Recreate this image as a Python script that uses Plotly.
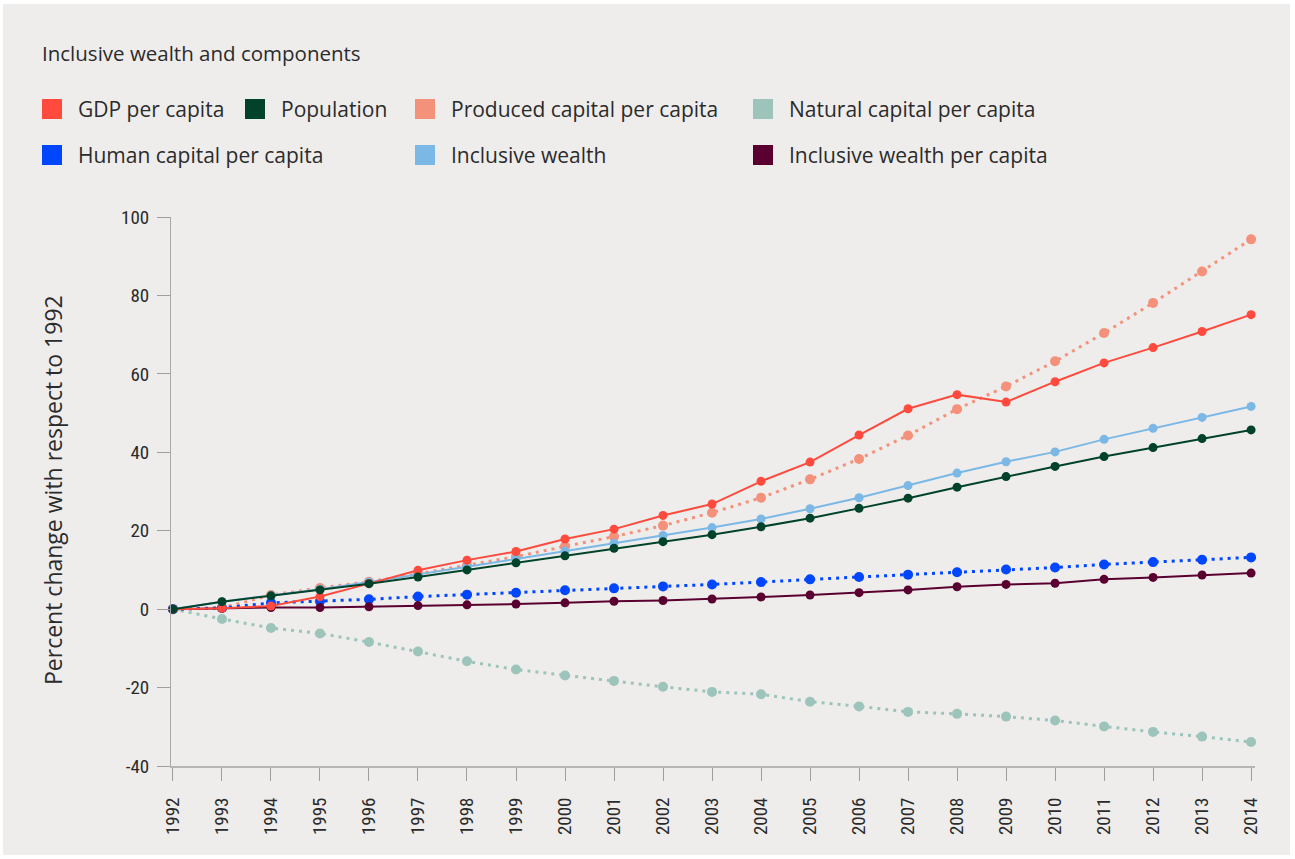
import plotly.graph_objects as go

# ---------------- data ----------------
years = [1992, 1993, 1994, 1995, 1996, 1997, 1998, 1999, 2000, 2001, 2002, 2003,
         2004, 2005, 2006, 2007, 2008, 2009, 2010, 2011, 2012, 2013, 2014]
year_labels = [str(y) for y in years]

gdp_per_capita = [0, 0.2, 0.8, 3.2, 6.5, 9.9, 12.5, 14.7, 17.9, 20.4, 23.9, 26.8,
                  32.6, 37.5, 44.4, 51.1, 54.7, 52.8, 58.0, 62.8, 66.7, 70.8, 75.1]
population = [0, 1.9, 3.4, 4.9, 6.5, 8.2, 10.0, 11.8, 13.6, 15.5, 17.2, 19.0,
              21.0, 23.2, 25.7, 28.3, 31.1, 33.8, 36.4, 38.9, 41.2, 43.5, 45.7]
produced_capital_pc = [0, 0.3, 3.6, 5.4, 7.0, 9.0, 11.2, 13.4, 16.0, 18.5, 21.3, 24.6,
                       28.4, 33.1, 38.3, 44.3, 51.0, 56.8, 63.2, 70.4, 78.1, 86.1, 94.3]
natural_capital_pc = [0, -2.5, -4.8, -6.2, -8.4, -10.8, -13.3, -15.4, -16.9, -18.3, -19.8, -21.1,
                      -21.7, -23.6, -24.8, -26.2, -26.7, -27.4, -28.4, -29.9, -31.3, -32.5, -33.9]
human_capital_pc = [0, 0.3, 1.6, 2.0, 2.5, 3.2, 3.7, 4.2, 4.8, 5.3, 5.8, 6.3,
                    6.9, 7.6, 8.2, 8.8, 9.4, 10.1, 10.6, 11.4, 12.0, 12.6, 13.2]
inclusive_wealth = [0, 1.9, 3.5, 5.1, 6.9, 8.8, 10.8, 12.8, 14.8, 16.8, 18.8, 20.8,
                    23.0, 25.6, 28.4, 31.5, 34.7, 37.6, 40.1, 43.3, 46.1, 48.9, 51.7]
inclusive_wealth_pc = [0, 0.2, 0.4, 0.4, 0.6, 0.9, 1.1, 1.3, 1.6, 2.0, 2.2, 2.6,
                       3.1, 3.6, 4.2, 4.9, 5.7, 6.3, 6.6, 7.6, 8.1, 8.7, 9.2]

y_ticks = [-40, -20, 0, 20, 40, 60, 80, 100]
y_tick_labels = ["-40", "-20", "0", "20", "40", "60", "80", "100"]

# ---------------- styling ----------------
W, H = 1295, 859
L, R, T, B = 171, 40, 217, 93
PW, PH = W - L - R, H - T - B
BG = "#EEEDEB"
TXT = "#2B2B2B"
FONT = "'Open Sans', Lato, sans-serif"
NARROW = "'Liberation Sans Narrow', 'Roboto Condensed', 'Arial Narrow', Roboto, sans-serif"

C_GDP = "#FF4A3D"
C_POP = "#00432A"
C_PROD = "#F4917B"
C_NAT = "#9CC4BB"
C_HUM = "#0046FF"
C_IW = "#7BB8E5"
C_IWPC = "#5A0030"


def px(x):
    return (x - L) / PW


def py(y):
    return (H - B - y) / PH


fig = go.Figure()

series = [
    ("Natural capital per capita", natural_capital_pc, C_NAT, True, 10),
    ("Produced capital per capita", produced_capital_pc, C_PROD, True, 10),
    ("Human capital per capita", human_capital_pc, C_HUM, True, 10),
    ("Inclusive wealth", inclusive_wealth, C_IW, False, 9),
    ("Inclusive wealth per capita", inclusive_wealth_pc, C_IWPC, False, 9),
    ("GDP per capita", gdp_per_capita, C_GDP, False, 9),
    ("Population", population, C_POP, False, 9),
]

for name, vals, col, dotted, msize in series:
    fig.add_trace(go.Scatter(
        x=years, y=vals, name=name, mode="lines+markers",
        line=dict(color=col, width=3 if dotted else 2,
                  dash="3px,5px" if dotted else "solid"),
        marker=dict(color=col, size=msize, line=dict(width=0)),
        showlegend=False, cliponaxis=False,
    ))

# ---------------- legend (custom grid) ----------------
legend_items = [
    ("GDP per capita", C_GDP, 42, 109),
    ("Population", C_POP, 245, 109),
    ("Produced capital per capita", C_PROD, 415, 109),
    ("Natural capital per capita", C_NAT, 753, 109),
    ("Human capital per capita", C_HUM, 42, 155),
    ("Inclusive wealth", C_IW, 415, 155),
    ("Inclusive wealth per capita", C_IWPC, 753, 155),
]

shapes = [
    dict(type="rect", xref="paper", yref="paper", layer="below",
         x0=px(3), x1=px(1290), y0=py(4), y1=py(855),
         fillcolor=BG, line=dict(width=0)),
]
annotations = [
    dict(text="Inclusive wealth and components", xref="paper", yref="paper",
         x=px(40), y=py(53), xanchor="left", yanchor="middle", showarrow=False,
         font=dict(family=FONT, size=20.5, color=TXT)),
    dict(text="Percent change with respect to 1992", xref="paper", yref="paper",
         x=px(53), y=py(490), xanchor="center", yanchor="middle", showarrow=False,
         textangle=-90, font=dict(family=FONT, size=23, color=TXT)),
]
for label, col, x0, yc in legend_items:
    shapes.append(dict(type="rect", xref="paper", yref="paper",
                       x0=px(x0), x1=px(x0 + 20), y0=py(yc - 10), y1=py(yc + 10),
                       fillcolor=col, line=dict(width=0)))
    annotations.append(dict(text=label, xref="paper", yref="paper",
                            x=px(x0 + 34), y=py(yc), xanchor="left", yanchor="middle",
                            showarrow=False,
                            font=dict(family=FONT, size=21, color=TXT)))

fig.update_layout(
    width=W, height=H,
    margin=dict(l=L, r=R, t=T, b=B, pad=0),
    paper_bgcolor="#FFFFFF",
    plot_bgcolor="rgba(0,0,0,0)",
    shapes=shapes,
    annotations=annotations,
    showlegend=False,
    font=dict(family=FONT, color=TXT),
)

fig.update_xaxes(
    range=[1991.96, 2014.08],
    tickmode="array", tickvals=years, ticktext=year_labels,
    tickangle=-90,
    ticks="outside", ticklen=13, tickcolor="#9E9E9E", tickwidth=1,
    ticklabelstandoff=9,
    showline=True, linecolor="#B5B5B5", linewidth=2,
    showgrid=False, zeroline=False,
    tickfont=dict(family=NARROW, size=19, color=TXT),
)
fig.update_yaxes(
    range=[-40, 100],
    tickmode="array", tickvals=y_ticks, ticktext=y_tick_labels,
    ticks="outside", ticklen=13, tickcolor="#9E9E9E", tickwidth=1,
    ticklabelstandoff=4,
    showline=True, linecolor="#A8A8A8", linewidth=1,
    showgrid=False, zeroline=False,
    tickfont=dict(family=NARROW, size=19, color=TXT),
)

fig.write_html("out.html", config={"displayModeBar": False},
               post_script="document.body.style.margin='0px';")
